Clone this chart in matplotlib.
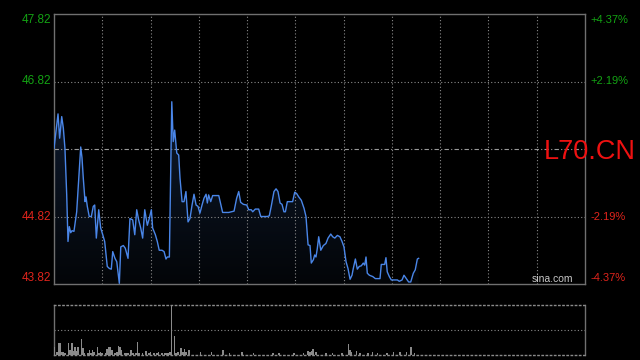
import numpy as np
import matplotlib.pyplot as plt
from matplotlib.patches import Polygon
from matplotlib.colors import LinearSegmentedColormap
import matplotlib.transforms as mtransforms

plt.rcParams['font.family'] = ['Liberation Sans', 'DejaVu Sans']

symbol = 'L70.CN'
prev_close = 45.82
left_ticks = [47.82, 46.82, 44.82, 43.82]
right_labels = ['+4.37%', '+2.19%', '-2.19%', '-4.37%']
tick_colors = ['#13a313', '#13a313', '#e0241c', '#e0241c']

# minutes since open (session = 330 min) and price
minutes = [0, 2.5, 3.5, 4.8, 5.8, 6.8, 7.9, 8.7, 9.5, 10.4, 11.2, 12.4, 14.1, 15.4,
           16.6, 17.4, 18.2, 19.3, 19.9, 20.7, 21.9, 23.2, 24.4, 25.3, 26.3, 27.8,
           29.0, 30.3, 31.5, 33.1, 34.4, 35.6, 36.5, 37.9, 39.0, 40.6, 41.5, 43.1,
           44.3, 46.0, 47.2, 48.9, 50.2, 51.4, 52.6, 53.9, 55.1, 56.4, 58.0, 59.2,
           60.5, 61.3, 63.0, 64.2, 65.4, 67.1, 68.4, 69.6, 70.4, 71.7, 73.2, 74.1,
           75.0, 76.3, 77.5, 78.3, 79.6, 80.8, 82.0, 83.3, 84.5, 85.8, 87.0, 88.3,
           89.5, 90.7, 92.0, 93.2, 94.5, 95.3, 96.1, 97.4, 98.6, 102.4, 104.8, 108.6,
           111.9, 113.5, 114.8, 116.0, 117.7, 119.8, 121.0, 122.6, 123.5, 125.1, 127.2,
           128.5, 132.6, 133.8, 135.0, 136.7, 138.0, 139.2, 140.5, 141.7, 142.9, 143.8,
           145.0, 148.3, 149.6, 150.8, 152.1, 153.7, 155.4, 156.6, 157.9, 159.1, 159.9,
           161.2, 162.0, 162.8, 163.6, 164.5, 165.8, 167.4, 169.0, 170.3, 172.0, 173.2,
           174.5, 176.1, 177.7, 179.0, 180.2, 181.5, 182.7, 184.0, 185.2, 186.0, 187.3,
           188.5, 189.7, 191.0, 192.2, 193.1, 193.9, 194.7, 196.0, 198.1, 199.7, 202.6,
           203.4, 205.5, 206.3, 207.1, 208.4, 209.6, 213.4, 214.6, 216.3, 217.5, 219.2,
           220.4, 221.7, 223.3, 224.5, 225.8, 226.6]
prices = [45.83, 46.34, 45.98, 46.30, 46.13, 45.83, 45.14, 44.45, 44.67, 44.58, 44.61,
          44.60, 44.89, 45.39, 45.85, 45.69, 45.39, 45.04, 45.11, 44.97, 44.82, 44.82,
          44.97, 44.99, 44.50, 44.92, 44.65, 44.55, 44.45, 44.08, 44.05, 44.04, 44.30,
          44.20, 44.15, 43.83, 44.37, 44.39, 44.35, 44.20, 44.79, 44.77, 44.55, 44.92,
          44.77, 44.65, 44.50, 44.92, 44.69, 44.79, 44.92, 44.65, 44.55, 44.45, 44.32,
          44.32, 44.30, 44.19, 44.22, 44.22, 46.52, 45.93, 46.10, 45.76, 45.73, 45.39,
          45.04, 45.04, 45.19, 44.74, 44.79, 44.99, 45.15, 44.99, 44.97, 44.87, 44.99,
          45.09, 45.15, 45.02, 45.14, 45.04, 45.13, 45.13, 44.88, 44.88, 44.90, 45.09,
          45.19, 45.03, 45.00, 44.99, 44.92, 44.92, 44.89, 44.93, 44.93, 44.82, 44.82,
          44.83, 44.97, 45.19, 45.23, 45.19, 45.02, 45.00, 44.89, 44.89, 45.04, 45.04,
          45.18, 45.16, 45.11, 45.06, 44.94, 44.82, 44.40, 44.39, 44.13, 44.18, 44.25,
          44.22, 44.34, 44.52, 44.32, 44.39, 44.42, 44.50, 44.56, 44.52, 44.50, 44.54,
          44.52, 44.45, 44.37, 44.15, 44.05, 43.89, 43.95, 44.05, 44.19, 44.04, 44.08,
          44.09, 44.13, 44.10, 44.22, 43.98, 43.95, 43.93, 43.90, 43.90, 44.11, 44.11,
          44.21, 44.00, 43.93, 43.88, 43.88, 43.86, 43.88, 43.95, 43.89, 43.85, 43.85,
          43.98, 44.03, 44.19, 44.20]

vol_minutes = [0, 2, 3, 4, 5, 6, 7, 9, 10, 11, 12, 13, 14, 15, 17, 18, 19, 21, 22, 23,
               24, 25, 27, 28, 29, 30, 32, 33, 34, 35, 36, 38, 39, 40, 41, 42, 44, 45,
               46, 48, 49, 51, 52, 53, 55, 57, 59, 60, 62, 64, 65, 67, 69, 70, 71, 72,
               73, 75, 76, 77, 79, 80, 81, 82, 84, 91, 98, 105, 109, 117, 124, 136, 140,
               149, 155, 158, 159, 160, 161, 163, 169, 173, 179, 183, 184, 185, 188, 190,
               195, 198, 201, 207, 211, 215, 219, 222, 224]
vol_values = [830, 330, 1230, 1170, 270, 330, 170, 1230, 500, 1230, 430, 770, 430, 770,
              1600, 670, 230, 170, 500, 230, 500, 330, 770, 170, 330, 170, 170, 570, 770,
              770, 500, 170, 330, 900, 830, 500, 170, 230, 170, 500, 230, 170, 1330, 170,
              170, 430, 170, 330, 170, 230, 330, 230, 170, 230, 170, 270, 5000, 1930, 170,
              330, 670, 330, 570, 330, 500, 330, 270, 500, 170, 330, 170, 170, 230, 170,
              170, 400, 330, 430, 570, 330, 170, 170, 170, 1100, 500, 330, 430, 230, 230,
              330, 230, 230, 330, 270, 270, 770, 170]

grid_c = '#8a8a8a'
spine_c = '#707070'
dotted = (0, (1, 2))

fig = plt.figure(figsize=(6.4, 3.6), dpi=100, facecolor='black')
ax = fig.add_axes([54 / 640, 76 / 360, 531 / 640, 270 / 360])
axv = fig.add_axes([54 / 640, 5 / 360, 531 / 640, 50 / 360])

for a in (ax, axv):
    a.set_facecolor('black')
    a.set_xticks([])
    a.set_yticks([])
    a.set_xlim(0, 330)
    for s in a.spines.values():
        s.set_color(spine_c)
        s.set_linewidth(1)

# price panel
ymin, ymax = left_ticks[-1], left_ticks[0]
for m in range(30, 330, 30):
    ax.axvline(m, color=grid_c, lw=0.8, ls=dotted, zorder=2)
for v in (left_ticks[1], left_ticks[2]):
    ax.axhline(v, color=grid_c, lw=0.8, ls=dotted, zorder=2)
ax.axhline(prev_close, color='#9a9a9a', lw=0.8, ls=(0, (4, 2, 1, 2)), zorder=2)

grad = np.linspace(0, 1, 256).reshape(-1, 1)
cmap = LinearSegmentedColormap.from_list('fill', ['#030508', '#0e1a2e'])
im = ax.imshow(grad, extent=[0, 330, ymin, max(prices)], aspect='auto',
               cmap=cmap, origin='lower', zorder=1)
verts = [(minutes[0], ymin)] + list(zip(minutes, prices)) + [(minutes[-1], ymin)]
poly = Polygon(verts, closed=True, facecolor='none', edgecolor='none')
ax.add_patch(poly)
im.set_clip_path(poly)
ax.plot(minutes, prices, color='#4a86e8', lw=1.0, zorder=3)
ax.set_xlim(0, 330)
ax.set_ylim(ymin, ymax)

offsets = [-6, 0, 0, 6]
for v, lab, c, off in zip(left_ticks, right_labels, tick_colors, offsets):
    tr = ax.get_yaxis_transform() + mtransforms.ScaledTranslation(0, off / 100, fig.dpi_scale_trans)
    ax.text(-0.006, v, f'{v:.2f}', color=c, fontsize=8.5, ha='right', va='center',
            transform=tr, clip_on=False)
    ax.text(1.01, v, lab, color=c, fontsize=8, ha='left', va='center',
            transform=tr, clip_on=False)

ax.text(0.9228, prev_close, symbol, color='#ee1111', fontsize=19.5, ha='left',
        va='center_baseline', transform=ax.get_yaxis_transform(), clip_on=False, zorder=5)
ax.text(0.939, 0.02, 'sina.com', color='#c8c8c8', fontsize=7.5, ha='center',
        va='center', transform=ax.transAxes, zorder=5)

# volume panel
axv.bar(vol_minutes, vol_values, width=1.0, color='#8a8a8a', zorder=3)
axv.set_ylim(0, 5000)
axv.axhline(2500, color=grid_c, lw=0.8, ls=dotted, zorder=2)
for s in ('top', 'bottom'):
    axv.spines[s].set_linestyle(dotted)
    axv.spines[s].set_color(grid_c)

fig.savefig('out.png', dpi=100, facecolor='black')
